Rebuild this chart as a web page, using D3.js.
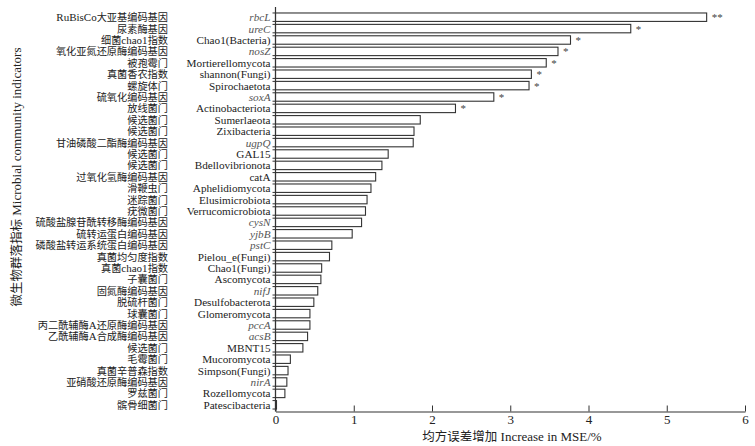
<!DOCTYPE html>
<html><head><meta charset="utf-8">
<script src="https://cdn.jsdelivr.net/npm/d3@7"></script>
<style>
html,body{margin:0;padding:0;background:#fff;}
svg text{font-family:"Liberation Serif",serif;}
</style></head>
<body><svg id="chart" width="755" height="446"></svg>
<script>
const namesEn = ["rbcL","ureC","Chao1(Bacteria)","nosZ","Mortierellomycota","shannon(Fungi)","Spirochaetota","soxA","Actinobacteriota","Sumerlaeota","Zixibacteria","ugpQ","GAL15","Bdellovibrionota","catA","Aphelidiomycota","Elusimicrobiota","Verrucomicrobiota","cysN","yjbB","pstC","Pielou_e(Fungi)","Chao1(Fungi)","Ascomycota","nifJ","Desulfobacterota","Glomeromycota","pccA","acsB","MBNT15","Mucoromycota","Simpson(Fungi)","nirA","Rozellomycota","Patescibacteria"];
const namesZh = ["RuBisCo大亚基编码基因","尿素酶基因","细菌chao1指数","氧化亚氮还原酶编码基因","被孢霉门","真菌香农指数","螺旋体门","硫氧化编码基因","放线菌门","候选菌门","候选菌门","甘油磷酸二酯酶编码基因","候选菌门","候选菌门","过氧化氢酶编码基因","滑鞭虫门","迷踪菌门","疣微菌门","硫酸盐腺苷酰转移酶编码基因","硫转运蛋白编码基因","磷酸盐转运系统蛋白编码基因","真菌均匀度指数","真菌chao1指数","子囊菌门","固氮酶编码基因","脱硫杆菌门","球囊菌门","丙二酰辅酶A还原酶编码基因","乙酰辅酶A合成酶编码基因","候选菌门","毛霉菌门","真菌辛普森指数","亚硝酸还原酶编码基因","罗兹菌门","髌骨细菌门"];
const values = [5.51,4.54,3.77,3.61,3.46,3.27,3.24,2.79,2.30,1.85,1.77,1.76,1.44,1.36,1.28,1.22,1.17,1.15,1.10,0.98,0.72,0.69,0.59,0.58,0.54,0.49,0.44,0.44,0.41,0.35,0.19,0.16,0.145,0.12,0.01];
const signif = ["**","*","*","*","*","*","*","*","*","","","","","","","","","","","","","","","","","","","","","","","","","",""];
const italicGenes = ["rbcL","ureC","nosZ","soxA","ugpQ","cysN","yjbB","pstC","nifJ","pccA","acsB","nirA"];
const xTicks = [0,1,2,3,4,5,6];
const xTitle = "均方误差增加 Increase in MSE/%";
const yTitle = "微生物群落指标 Microbial community indicators";

const svg = d3.select("#chart");
const x = d3.scaleLinear().domain([0,6]).range([275.5,745]);
const y = d3.scaleBand().domain(namesEn).range([11.5,410.5]).paddingInner(0.26).paddingOuter(0.13);
const ink = "#222";
const serif = "'Liberation Serif',serif";
const cjk = "'Noto Sans CJK SC',sans-serif";

function mixed(sel, str, cjkSize){
  const runs = str.match(/[\u3000-\u9fff\uff00-\uffef]+|[^\u3000-\u9fff\uff00-\uffef]+/g) || [];
  runs.forEach(r=>{
    const isCjk = /[\u3000-\u9fff]/.test(r);
    const t = sel.append("tspan").text(r).attr("font-family", isCjk?cjk:serif);
    if (isCjk && cjkSize) t.attr("font-size", cjkSize);
  });
}

// bars
svg.append("g").selectAll("rect").data(namesEn).join("rect")
  .attr("x", x(0))
  .attr("y", (d)=>y(d))
  .attr("width", (d,i)=>Math.max(1, x(values[i])-x(0)))
  .attr("height", y.bandwidth())
  .attr("fill","#fff").attr("stroke","#333").attr("stroke-width",1.1);

// small ticks on y axis at bar edges
const edges = namesEn.flatMap(d=>[y(d), y(d)+y.bandwidth()]);
svg.append("g").selectAll("line").data(edges).join("line")
  .attr("x1", x(0)-3).attr("x2", x(0))
  .attr("y1", d=>d).attr("y2", d=>d)
  .attr("stroke","#333").attr("stroke-width",1);

// y axis line
svg.append("line").attr("x1",x(0)).attr("x2",x(0)).attr("y1",7).attr("y2",411.5)
  .attr("stroke","#333").attr("stroke-width",1.2);

// English labels
svg.append("g").selectAll("text").data(namesEn).join("text")
  .attr("x", x(0)-5)
  .attr("y", d=>y(d)+y.bandwidth()/2+4)
  .attr("text-anchor","end")
  .attr("font-size", 11.2)
  .attr("font-style", d=>italicGenes.includes(d)?"italic":"normal")
  .attr("fill", d=>italicGenes.includes(d)?"#555":ink)
  .text(d=>d);

// Chinese labels
svg.append("g").selectAll("text").data(namesZh).join("text")
  .attr("x", 168)
  .attr("y", (d,i)=>y(namesEn[i])+y.bandwidth()/2+4)
  .attr("text-anchor","end")
  .attr("font-size", 11)
  .attr("fill", ink)
  .each(function(d){ mixed(d3.select(this), d, 10.2); });

// significance marks
svg.append("g").selectAll("text").data(namesEn).join("text")
  .attr("x", (d,i)=>x(values[i])+5)
  .attr("y", d=>y(d)+y.bandwidth()/2+4)
  .attr("font-size", 11)
  .attr("fill","#444")
  .text((d,i)=>signif[i]);

// x axis
const xAxis = d3.axisBottom(x).tickValues(xTicks).tickSizeInner(-6).tickSizeOuter(0).tickPadding(3).tickFormat(d3.format("d"));
const gx = svg.append("g").attr("transform","translate(0,411.5)").call(xAxis);
gx.select(".domain").attr("stroke","#333").attr("stroke-width",1.2);
gx.selectAll(".tick line").attr("stroke","#333");
gx.selectAll(".tick text").attr("font-size",13).attr("fill",ink).attr("font-family",serif);

// axis titles
const xt = svg.append("text").attr("x",512).attr("y",441).attr("text-anchor","middle")
  .attr("font-size",13).attr("fill",ink);
mixed(xt, xTitle, 12.5);
const yt = svg.append("text").attr("transform","translate(21,177) rotate(-90)").attr("text-anchor","middle")
  .attr("font-size",13).attr("fill",ink);
mixed(yt, yTitle, 12.5);
</script></body></html>
